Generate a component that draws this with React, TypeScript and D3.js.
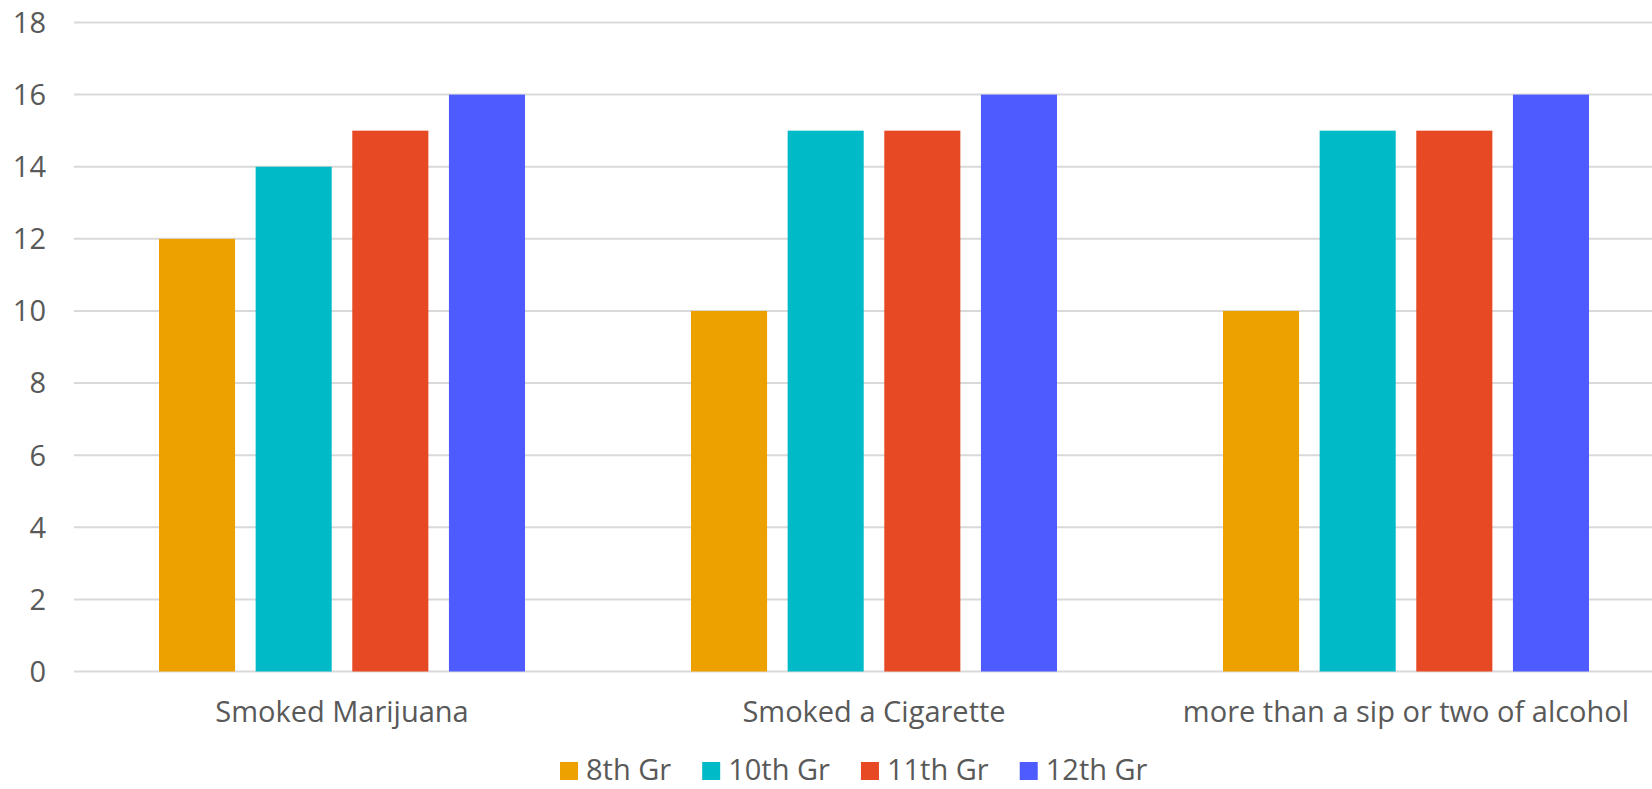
import React, { useEffect, useRef } from "react";
import * as d3 from "d3";

const categories = ["Smoked Marijuana", "Smoked a Cigarette", "more than a sip or two of alcohol"];
const seriesNames = ["8th Gr", "10th Gr", "11th Gr", "12th Gr"];
const grade8 = [12, 10, 10];
const grade10 = [14, 15, 15];
const grade11 = [15, 15, 15];
const grade12 = [16, 16, 16];
const seriesColors = ["#EDA100", "#00BAC7", "#E64923", "#4E5CFF"];
const yTicks = [0, 2, 4, 6, 8, 10, 12, 14, 16, 18];

const W = 1652;
const H = 789;
const FONT = "'Open Sans', Roboto, sans-serif";
const FS = 29;

export default function App() {
  const ref = useRef<SVGSVGElement | null>(null);

  useEffect(() => {
    const svg = d3.select(ref.current);
    svg.selectAll("*").remove();

    const seriesValues = [grade8, grade10, grade11, grade12];
    const y = d3.scaleLinear().domain([0, 18]).range([671.5, 22.5]);
    const x0 = d3.scaleBand<string>().domain(categories).range([76, 1672]).paddingInner(0).paddingOuter(0);
    const groupW = 366;
    const off = (x0.bandwidth() - groupW) / 2;
    const x1 = d3.scaleBand<string>().domain(seriesNames).range([0, groupW]).paddingInner(0.213).paddingOuter(0);

    svg.append("g")
      .selectAll("line")
      .data(yTicks)
      .join("line")
      .attr("x1", 74)
      .attr("x2", W)
      .attr("y1", (d) => y(d))
      .attr("y2", (d) => y(d))
      .attr("stroke", "#D9D9D9")
      .attr("stroke-width", 2);

    svg.append("g")
      .selectAll("text")
      .data(yTicks)
      .join("text")
      .attr("x", 46)
      .attr("y", (d) => y(d))
      .attr("dy", "0.36em")
      .attr("text-anchor", "end")
      .attr("font-family", FONT)
      .attr("font-size", FS)
      .attr("fill", "#595959")
      .text((d) => String(d));

    const groups = svg.append("g")
      .selectAll("g")
      .data(categories)
      .join("g")
      .attr("transform", (c) => `translate(${(x0(c) as number) + off},0)`);

    groups.selectAll("rect")
      .data((c, ci) => seriesNames.map((s, si) => ({ s, si, v: seriesValues[si][ci] })))
      .join("rect")
      .attr("x", (d) => x1(d.s) as number)
      .attr("width", x1.bandwidth())
      .attr("y", (d) => y(d.v))
      .attr("height", (d) => y(0) - y(d.v))
      .attr("fill", (d) => seriesColors[d.si]);

    svg.append("g")
      .selectAll("text")
      .data(categories)
      .join("text")
      .attr("x", (c) => (x0(c) as number) + x0.bandwidth() / 2)
      .attr("y", 722)
      .attr("text-anchor", "middle")
      .attr("font-family", FONT)
      .attr("font-size", FS)
      .attr("fill", "#595959")
      .text((c) => c);

    const legend = svg.append("g");
    let lx = 560;
    seriesNames.forEach((s, i) => {
      legend.append("rect")
        .attr("x", lx)
        .attr("y", 762)
        .attr("width", 18)
        .attr("height", 18)
        .attr("fill", seriesColors[i]);
      const t = legend.append("text")
        .attr("x", lx + 26)
        .attr("y", 780)
        .attr("font-family", FONT)
        .attr("font-size", FS)
        .attr("fill", "#595959")
        .text(s);
      const w = (t.node() as SVGTextElement).getComputedTextLength();
      lx = lx + 26 + w + 31;
    });
  }, []);

  return (
    <svg
      ref={ref}
      width={W}
      height={H}
      style={{ position: "absolute", left: 0, top: 0, background: "#fff" }}
    />
  );
}
